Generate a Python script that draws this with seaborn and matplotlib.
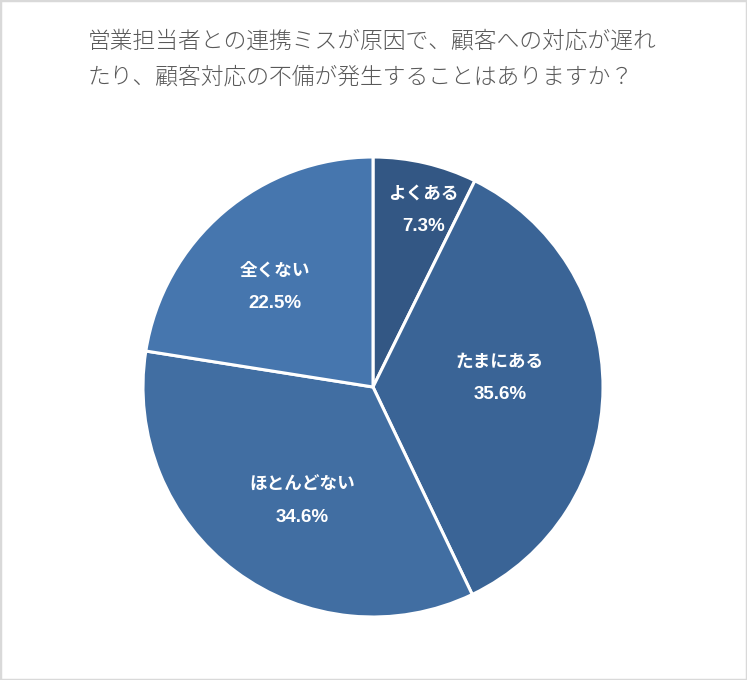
import matplotlib
matplotlib.use("Agg")
import matplotlib.pyplot as plt
import seaborn as sns
import numpy as np
from matplotlib.patches import Rectangle

sns.set_theme(style="white")
plt.rcParams['font.family'] = ['Noto Sans CJK JP', 'DejaVu Sans']

categories = ["よくある", "たまにある", "ほとんどない", "全くない"]
values = [7.3, 35.6, 34.6, 22.5]
colors = ["#335784", "#3A6496", "#416EA2", "#4676AE"]
label_r = [0.80, 0.553, 0.584, 0.609]
label_dang = [-2.7, 4.4, 4.8, 3.9]
title = "営業担当者との連携ミスが原因で、顧客への対応が遅れ\nたり、顧客対応の不備が発生することはありますか？"

fig = plt.figure(figsize=(7.47, 6.80), dpi=100)
fig.patch.set_facecolor("white")
fig.patches.append(Rectangle((0, 0), 1, 1, transform=fig.transFigure,
                             fill=False, edgecolor="#D9D9D9", linewidth=2.5))

W, H = 747, 680
cx, cy, r = 373, 387, 230
ax = fig.add_axes([(cx - r) / W, (H - cy - r) / H, 2 * r / W, 2 * r / H])
wedges, _ = ax.pie(values, colors=colors, startangle=90, counterclock=False,
                   wedgeprops=dict(edgecolor="white", linewidth=2.2), radius=1)
ax.set_xlim(-1, 1)
ax.set_ylim(-1, 1)
ax.set_aspect("equal")
ax.axis("off")

for w, cat, v, lr, da in zip(wedges, categories, values, label_r, label_dang):
    ang = np.deg2rad((w.theta1 + w.theta2) / 2 + da)
    x, y = lr * np.cos(ang), lr * np.sin(ang)
    ax.text(x, y + 0.072, cat, ha="center", va="center", color="white",
            fontsize=12.7, fontweight="bold")
    ax.text(x, y - 0.072, f"{v:.1f}%", ha="center", va="center", color="white",
            fontsize=13.5, fontweight="bold",
            family=['Liberation Sans', 'Noto Sans CJK JP'])

fig.text(88 / W, 1 - 29 / H, title, ha="left", va="top", color="#595959",
         fontsize=16.4, linespacing=1.56, fontweight="light")

fig.savefig("out.png", dpi=100, facecolor="white")
